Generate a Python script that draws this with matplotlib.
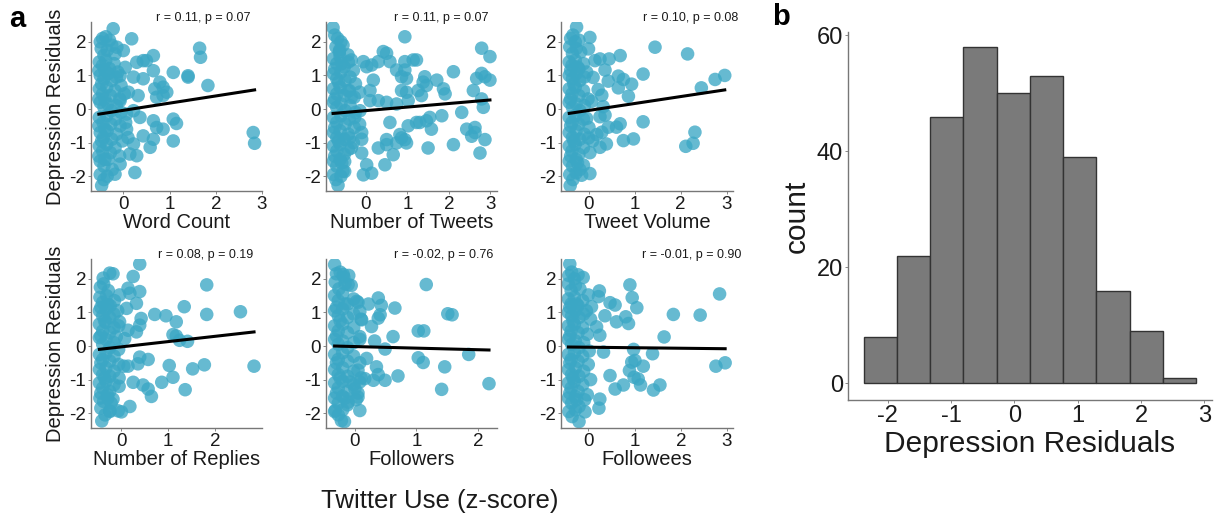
"""Twitter use vs depression residuals: six scatter panels plus a histogram."""
import numpy as np
import matplotlib
matplotlib.use('Agg')
import matplotlib.pyplot as plt

plt.rcParams['font.family'] = ['Liberation Sans', 'DejaVu Sans']
plt.rcParams['axes.unicode_minus'] = False

# -- DATA
panel_names = ['Word Count', 'Number of Tweets', 'Tweet Volume',
               'Number of Replies', 'Followers', 'Followees']
panel_stats = ['r = 0.11, p = 0.07', 'r = 0.11, p = 0.07', 'r = 0.10, p = 0.08',
               'r = 0.08, p = 0.19', 'r = -0.02, p = 0.76', 'r = -0.01, p = 0.90']
fit_slope = [0.214, 0.106, 0.206, 0.157, -0.047, -0.015]
fit_intercept = [-0.039, -0.048, -0.041, -0.025, -0.016, -0.036]
panel_xticks = [[0, 1, 2, 3], [0, 1, 2, 3], [0, 1, 2, 3],
                [0, 1, 2], [0, 1, 2], [0, 1, 2, 3]]

word_count = [
    (-0.50, 2.00), (-0.45, 2.10), (-0.38, 2.15), (-0.30, 2.05), (-0.48, 1.80), (-0.42, 1.60),
    (-0.35, 1.75), (-0.25, 1.90), (-0.52, 1.40), (-0.45, 1.30), (-0.38, 1.45), (-0.30, 1.20),
    (-0.20, 1.35), (-0.12, 1.10), (-0.50, 1.00), (-0.42, 0.90), (-0.33, 1.05), (-0.25, 0.85),
    (-0.15, 0.95), (-0.05, 0.70), (-0.52, 0.60), (-0.45, 0.45), (-0.36, 0.65), (-0.28, 0.40),
    (-0.18, 0.55), (-0.08, 0.30), (0.02, 0.45), (-0.50, 0.20), (-0.42, 0.05), (-0.34, 0.15),
    (-0.26, -0.05), (-0.15, 0.10), (-0.05, -0.10), (-0.52, -0.25), (-0.44, -0.40), (-0.36, -0.20),
    (-0.27, -0.45), (-0.17, -0.30), (-0.07, -0.50), (0.05, -0.40), (-0.50, -0.70), (-0.43, -0.85),
    (-0.35, -0.65), (-0.25, -0.90), (-0.15, -0.75), (-0.02, -0.95), (0.10, -0.85), (-0.52, -1.10),
    (-0.45, -1.25), (-0.36, -1.05), (-0.28, -1.30), (-0.18, -1.15), (-0.08, -1.40), (-0.50, -1.55),
    (-0.42, -1.70), (-0.33, -1.50), (-0.24, -1.80), (-0.50, -1.95), (-0.42, -2.10), (-0.47, -2.28),
    (-0.35, -2.00), (-0.53, 1.15), (-0.53, 0.30), (-0.53, -0.50), (-0.53, -1.40), (-0.47, 0.75),
    (-0.47, -0.95), (-0.40, 1.15), (-0.40, -1.50), (-0.40, 0.30), (-0.40, -0.60),
    (0.18, 2.09), (-0.22, 2.39), (1.65, 1.81), (1.67, 1.54), (1.83, 0.70), (2.81, -0.70),
    (2.84, -1.02), (1.08, 1.09), (1.40, 0.99), (1.40, 0.95), (0.65, 1.59), (0.65, 1.14),
    (0.43, 1.44), (0.50, 1.44), (0.29, 1.39), (0.22, 0.95), (0.43, 0.90), (0.79, 0.80),
    (0.86, 0.65), (0.68, 0.60), (0.94, 0.50), (0.86, 0.40), (0.72, 0.35), (0.32, 0.40),
    (0.11, 0.50), (1.08, -0.30), (1.15, -0.43), (0.65, -0.35), (0.72, -0.55), (0.86, -0.60),
    (0.65, -0.90), (0.43, -0.80), (1.08, -0.95), (0.58, -1.14), (0.22, -1.04), (0.14, -1.34),
    (0.29, -1.39), (0.25, -1.89), (-0.07, -1.64), (-0.18, -1.94), (-0.18, 1.64), (0.00, 1.74),
    (-0.14, 1.84), (0.04, 1.24), (-0.07, 0.99), (0.22, -0.05), (0.36, -0.25), (0.07, -0.15),
    (-0.07, 0.25), (0.07, -0.60),
]

n_tweets = [
    (-0.79, 2.42), (-0.75, 2.20), (-0.68, 2.10), (-0.60, 2.00), (-0.72, 1.85), (-0.64, 1.70),
    (-0.55, 1.90), (-0.78, 1.50), (-0.70, 1.35), (-0.62, 1.55), (-0.52, 1.25), (-0.42, 1.40),
    (-0.30, 1.15), (-0.78, 1.05), (-0.70, 0.90), (-0.60, 1.10), (-0.50, 0.85), (-0.38, 0.95),
    (-0.25, 0.75), (-0.78, 0.60), (-0.70, 0.45), (-0.62, 0.65), (-0.52, 0.40), (-0.40, 0.55),
    (-0.28, 0.35), (-0.15, 0.50), (-0.78, 0.20), (-0.70, 0.05), (-0.60, 0.15), (-0.50, -0.05),
    (-0.38, 0.10), (-0.25, -0.10), (-0.78, -0.25), (-0.70, -0.40), (-0.60, -0.20), (-0.50, -0.45),
    (-0.40, -0.30), (-0.28, -0.55), (-0.15, -0.45), (-0.78, -0.70), (-0.70, -0.85), (-0.62, -0.65),
    (-0.52, -0.90), (-0.42, -0.75), (-0.30, -1.00), (-0.10, -0.90), (-0.78, -1.10), (-0.70, -1.25),
    (-0.62, -1.05), (-0.52, -1.35), (-0.42, -1.20), (-0.78, -1.55), (-0.70, -1.70), (-0.62, -1.50),
    (-0.55, -1.85), (-0.78, -1.95), (-0.72, -2.10), (-0.67, -2.27), (-0.60, -2.00), (-0.75, 1.20),
    (-0.75, 0.30), (-0.75, -0.55), (-0.75, -1.40), (-0.66, 0.80), (-0.66, -0.95), (-0.58, 1.35),
    (-0.58, -1.60),
    (0.94, 2.15), (2.79, 1.81), (2.99, 1.56), (2.79, 1.06), (2.87, 0.96), (2.99, 0.86),
    (2.67, 0.91), (2.59, 0.55), (2.83, 0.05), (2.79, 0.30), (2.43, -0.60), (2.63, -0.55),
    (2.55, -0.81), (2.63, -0.70), (2.87, -0.91), (2.75, -1.31), (2.11, 1.11), (1.71, 0.86),
    (1.87, 0.60), (1.91, 0.45), (2.31, -0.10), (1.83, -0.20), (2.11, -1.06), (1.50, -1.16),
    (1.58, -0.60), (1.46, -0.35), (1.54, -0.25), (1.22, -0.40), (1.30, -0.40), (1.42, 0.96),
    (1.38, 0.80), (1.46, 0.70), (1.26, 0.55), (1.34, 0.40), (1.22, 1.46), (1.14, 1.46),
    (0.94, 1.41), (0.94, 1.16), (0.74, 1.16), (0.98, 0.91), (0.86, 0.96), (0.86, 0.55),
    (0.98, 0.50), (1.02, 0.25), (0.74, 0.15), (0.50, 0.20), (0.42, 1.71), (0.50, 1.66),
    (0.58, 1.41), (0.30, 1.41), (0.58, -0.40), (1.02, -0.50), (0.82, -0.76), (0.86, -0.86),
    (0.94, -0.91), (0.98, -1.01), (0.74, -1.01), (0.50, -0.91), (0.50, -1.06), (0.30, -1.16),
    (0.66, -1.36), (0.46, -1.66), (0.14, -1.91), (-0.06, -1.96), (0.02, -1.66), (-0.10, -1.31),
    (0.10, 0.55), (0.18, 0.86), (0.02, 1.26), (-0.06, 1.41), (0.14, 1.31), (0.10, 0.25),
    (0.30, 0.25), (-0.14, -0.05), (-0.10, -0.70), (-0.27, -0.25), (-0.39, -0.86), (-0.35, -1.16),
    (-0.51, -1.86), (-0.51, -1.56), (-0.63, 1.76), (-0.43, 1.61), (-0.35, 1.46), (-0.43, 0.55),
    (-0.35, 0.35),
]

tweet_volume = [
    (-0.40, 2.10), (-0.35, 2.20), (-0.30, 2.00), (-0.22, 2.05), (-0.42, 1.85), (-0.36, 1.65),
    (-0.28, 1.80), (-0.18, 1.70), (-0.43, 1.40), (-0.37, 1.30), (-0.30, 1.45), (-0.22, 1.20),
    (-0.12, 1.35), (-0.05, 1.10), (-0.43, 1.00), (-0.36, 0.90), (-0.28, 1.05), (-0.20, 0.85),
    (-0.10, 0.95), (-0.43, 0.60), (-0.37, 0.45), (-0.30, 0.65), (-0.22, 0.40), (-0.12, 0.55),
    (-0.02, 0.30), (-0.43, 0.20), (-0.36, 0.05), (-0.28, 0.15), (-0.20, -0.05), (-0.10, 0.10),
    (-0.43, -0.25), (-0.37, -0.40), (-0.30, -0.20), (-0.22, -0.45), (-0.12, -0.30), (0.00, -0.55),
    (-0.43, -0.70), (-0.36, -0.85), (-0.28, -0.65), (-0.20, -0.90), (-0.10, -0.75), (0.08, -0.95),
    (-0.43, -1.10), (-0.37, -1.25), (-0.30, -1.05), (-0.22, -1.35), (-0.12, -1.15), (-0.43, -1.55),
    (-0.36, -1.70), (-0.28, -1.50), (-0.20, -1.80), (-0.42, -1.95), (-0.35, -2.10), (-0.28, -1.90),
    (-0.40, 1.15), (-0.40, 0.30), (-0.40, -0.50), (-0.40, -1.40), (-0.33, 0.75), (-0.33, -0.95),
    (-0.25, 1.25), (-0.25, -1.60),
    (-0.27, 2.44), (0.02, 2.13), (1.44, 1.84), (2.15, 1.64), (2.96, 1.00), (2.75, 0.88),
    (2.45, 0.63), (2.31, -0.69), (2.27, -1.02), (2.11, -1.11), (1.18, 1.04), (1.18, -0.38),
    (0.97, -0.89), (0.75, -0.94), (0.93, 0.74), (0.86, 0.38), (0.68, 1.59), (0.44, 1.49),
    (0.64, 0.98), (0.75, 0.88), (0.64, 0.63), (0.68, -0.44), (0.60, -0.54), (0.42, 0.83),
    (0.35, 1.16), (0.24, 1.49), (0.13, 1.44), (-0.01, 1.79), (0.28, 0.41), (0.20, 0.58),
    (0.31, 0.07), (0.35, -0.18), (0.24, -0.23), (0.42, -0.54), (0.28, -0.69), (0.38, -1.04),
    (0.24, -1.14), (0.02, -1.30), (-0.01, -0.86), (0.17, -0.76), (0.02, -1.92), (-0.16, -1.97),
    (-0.12, -1.67), (-0.41, -2.28), (-0.05, -0.28), (0.06, 0.23), (0.09, 0.94),
]

n_replies = [
    (-0.45, 1.75), (-0.38, 1.85), (-0.28, 1.65), (-0.46, 1.45), (-0.40, 1.30), (-0.32, 1.50),
    (-0.24, 1.20), (-0.15, 1.35), (-0.47, 1.05), (-0.40, 0.90), (-0.33, 1.10), (-0.25, 0.85),
    (-0.16, 0.95), (-0.08, 1.05), (-0.47, 0.65), (-0.40, 0.45), (-0.33, 0.70), (-0.25, 0.40),
    (-0.16, 0.55), (-0.06, 0.60), (-0.47, 0.25), (-0.40, 0.05), (-0.33, 0.20), (-0.25, -0.05),
    (-0.16, 0.10), (-0.06, -0.10), (-0.47, -0.25), (-0.40, -0.40), (-0.33, -0.20), (-0.25, -0.45),
    (-0.16, -0.30), (-0.06, -0.55), (-0.47, -0.70), (-0.40, -0.85), (-0.33, -0.65), (-0.25, -0.90),
    (-0.16, -0.75), (-0.05, -0.95), (0.05, -0.60), (-0.47, -1.10), (-0.40, -1.25), (-0.33, -1.05),
    (-0.25, -1.35), (-0.16, -1.15), (-0.05, -1.20), (-0.46, -1.55), (-0.38, -1.65), (-0.30, -1.45),
    (-0.22, -1.70), (-0.44, -1.85), (-0.35, -2.05), (-0.25, -1.95), (-0.44, 1.15), (-0.44, 0.30),
    (-0.44, -0.50), (-0.44, -1.40), (-0.36, 0.75), (-0.36, -0.95), (-0.29, 1.25), (-0.29, -1.55),
    (0.39, 2.44), (0.25, 2.07), (-0.25, 2.17), (-0.18, 2.15), (-0.39, 2.02), (0.14, 1.72),
    (0.18, 1.57), (0.39, 1.62), (0.32, 1.27), (1.82, 1.82), (1.34, 1.17), (1.82, 0.94),
    (2.54, 1.02), (0.71, 0.94), (0.95, 0.90), (1.17, 0.72), (0.42, 0.82), (0.39, 0.62),
    (0.32, 0.42), (0.14, 0.47), (1.10, 0.34), (1.17, 0.30), (1.24, 0.17), (1.41, 0.14),
    (2.83, -0.60), (1.77, -0.56), (1.52, -0.68), (1.02, -0.58), (1.10, -0.93), (0.86, -1.08),
    (1.36, -1.30), (0.57, -0.40), (0.39, -0.33), (0.35, -0.53), (0.14, -0.60), (0.25, -1.08),
    (0.46, -1.16), (0.57, -1.28), (0.64, -1.50), (0.18, -1.80), (0.00, -1.96), (-0.07, -1.93),
    (-0.25, -1.93), (-0.18, -1.58), (-0.42, -2.23), (0.07, 0.22), (-0.11, 0.27), (-0.04, 0.72),
    (0.11, 1.12), (-0.04, 1.52),
]

followers = [
    (-0.33, 2.42), (-0.30, 2.15), (-0.24, 2.20), (-0.18, 2.05), (-0.10, 2.10), (-0.32, 1.90),
    (-0.26, 1.70), (-0.16, 1.85), (-0.06, 1.80), (-0.33, 1.50), (-0.27, 1.35), (-0.20, 1.55),
    (-0.12, 1.25), (-0.02, 1.40), (0.05, 1.30), (-0.33, 1.05), (-0.27, 0.90), (-0.20, 1.10),
    (-0.12, 0.85), (-0.02, 0.95), (0.10, 0.80), (-0.33, 0.60), (-0.27, 0.45), (-0.20, 0.65),
    (-0.12, 0.40), (-0.02, 0.55), (-0.33, 0.20), (-0.27, 0.05), (-0.20, 0.15), (-0.12, -0.05),
    (-0.02, 0.10), (0.08, 0.20), (-0.33, -0.25), (-0.27, -0.40), (-0.20, -0.20), (-0.12, -0.45),
    (-0.02, -0.30), (0.08, -0.50), (-0.33, -0.70), (-0.27, -0.85), (-0.20, -0.65), (-0.12, -0.90),
    (-0.02, -0.75), (0.10, -0.95), (-0.33, -1.10), (-0.27, -1.25), (-0.20, -1.05), (-0.12, -1.35),
    (-0.02, -1.15), (0.05, -1.40), (-0.33, -1.55), (-0.27, -1.70), (-0.20, -1.50), (-0.12, -1.75),
    (0.02, -1.60), (-0.33, -1.95), (-0.27, -2.05), (-0.20, -1.90), (-0.17, -2.25), (-0.30, 1.15),
    (-0.30, 0.30), (-0.30, -0.50), (-0.30, -1.40), (-0.24, 0.75), (-0.24, -0.95), (-0.16, 1.25),
    (-0.16, -1.55),
    (1.16, 1.83), (0.38, 1.43), (0.43, 1.21), (0.22, 1.25), (0.65, 1.13), (0.41, 0.93),
    (0.38, 0.83), (0.27, 0.58), (0.11, 0.78), (0.08, 1.03), (0.03, 1.33), (-0.11, 1.83),
    (-0.19, 2.13), (1.51, 0.96), (1.58, 0.93), (1.03, 0.45), (1.12, 0.45), (0.62, 0.28),
    (0.32, 0.15), (0.08, 0.28), (0.49, -0.09), (1.85, -0.25), (1.03, -0.35), (1.11, -0.49),
    (1.46, -0.62), (0.70, -0.89), (0.49, -1.02), (0.35, -0.62), (0.38, -0.85), (0.30, -1.02),
    (0.19, -0.37), (2.18, -1.12), (1.41, -1.29), (0.08, -1.07), (0.16, -0.97), (0.05, -0.72),
    (0.08, -1.92), (0.05, -1.52), (-0.11, -1.67), (-0.22, -2.22), (-0.32, -1.92), (0.00, -1.27),
    (-0.08, -1.07),
]

followees = [
    (-0.42, 2.10), (-0.36, 2.20), (-0.30, 2.00), (-0.22, 2.12), (-0.43, 1.85), (-0.37, 1.65),
    (-0.28, 1.80), (-0.18, 1.70), (-0.43, 1.40), (-0.37, 1.25), (-0.30, 1.45), (-0.22, 1.20),
    (-0.12, 1.35), (-0.04, 1.05), (-0.43, 1.00), (-0.36, 0.90), (-0.28, 1.05), (-0.20, 0.85),
    (-0.10, 0.95), (0.05, 0.80), (-0.43, 0.60), (-0.37, 0.45), (-0.30, 0.65), (-0.22, 0.40),
    (-0.12, 0.55), (-0.02, 0.35), (-0.43, 0.20), (-0.36, 0.05), (-0.28, 0.15), (-0.20, -0.05),
    (-0.10, 0.10), (0.02, -0.15), (-0.43, -0.25), (-0.37, -0.40), (-0.30, -0.20), (-0.22, -0.45),
    (-0.12, -0.30), (0.00, -0.55), (-0.43, -0.70), (-0.36, -0.85), (-0.28, -0.65), (-0.20, -0.90),
    (-0.10, -0.75), (0.05, -1.00), (-0.43, -1.10), (-0.37, -1.25), (-0.30, -1.05), (-0.22, -1.35),
    (-0.12, -1.15), (-0.02, -1.45), (-0.43, -1.55), (-0.36, -1.70), (-0.28, -1.50), (-0.20, -1.80),
    (-0.08, -1.60), (-0.42, -1.95), (-0.35, -2.10), (-0.28, -1.90), (-0.40, 1.15), (-0.40, 0.30),
    (-0.40, -0.50), (-0.40, -1.40), (-0.33, 0.75), (-0.33, -0.95), (-0.25, 1.25), (-0.25, -1.60),
    (-0.40, 2.44), (-0.11, 2.04), (0.24, 1.64), (0.22, 1.47), (0.90, 1.82), (0.95, 1.44),
    (1.05, 1.14), (2.84, 1.55), (2.42, 0.92), (1.84, 0.94), (0.47, 1.29), (0.58, 1.22),
    (0.36, 0.90), (0.61, 0.72), (0.81, 0.87), (0.87, 0.67), (1.64, 0.27), (0.98, -0.10),
    (1.39, -0.23), (1.01, -0.43), (0.94, -0.48), (1.19, -0.60), (0.89, -0.73), (0.99, -0.93),
    (1.08, -0.98), (1.13, -1.16), (1.41, -1.31), (1.55, -1.16), (0.76, -1.16), (0.58, -1.28),
    (0.47, -0.88), (0.33, -0.18), (2.76, -0.60), (2.96, -0.50), (0.25, -1.58), (0.23, -1.85),
    (-0.07, -1.96), (-0.20, -2.25), (0.18, 0.57), (0.25, 0.32), (0.07, 1.17), (0.00, 1.52),
]

panel_points = [word_count, n_tweets, tweet_volume, n_replies, followers, followees]

# histogram of depression residuals
hist_edges = [-2.37, -1.85, -1.33, -0.81, -0.28, 0.24, 0.76, 1.29, 1.82, 2.34, 2.86]
hist_counts = [8, 22, 46, 58, 50, 53, 39, 16, 9, 1]


def style_axes(ax, fs):
    for side in ['top', 'right']:
        ax.spines[side].set_visible(False)
    for side in ['left', 'bottom']:
        ax.spines[side].set_color('#777777')
        ax.spines[side].set_linewidth(1.0)
    ax.tick_params(length=2, width=0.7, color='#888888', pad=1.5,
                   labelsize=fs, labelcolor='#1a1a1a')


def main():
    W, H = 1225, 521
    fig = plt.figure(figsize=(W / 100, H / 100), dpi=100)

    # axes boxes in pixels: left, top, right, bottom
    boxes = [(91, 22, 262, 191), (326, 22, 497, 191), (561, 22, 733, 191),
             (91, 259, 262, 428), (326, 259, 497, 428), (561, 259, 733, 428)]
    xlims = [(-0.70, 3.00), (-0.96, 3.16), (-0.61, 3.14),
             (-0.65, 3.00), (-0.47, 2.31), (-0.59, 3.13)]
    stat_x = [0.93, 0.95, 1.03, 0.95, 0.98, 1.05]

    for i in range(6):
        l, t, r, b = boxes[i]
        ax = fig.add_axes([l / W, 1 - b / H, (r - l) / W, (b - t) / H])
        pts = np.array(panel_points[i])
        x, y = pts[:, 0], pts[:, 1]
        ax.scatter(x, y, s=95, color='#3ba7c5', alpha=0.78, edgecolors='none', zorder=2)
        xx = np.array([x.min(), x.max()])
        ax.plot(xx, fit_intercept[i] + fit_slope[i] * xx, color='black', lw=2.2, zorder=3)
        ax.set_xlim(*xlims[i])
        ax.set_ylim(-2.44, 2.59)
        ax.set_xticks(panel_xticks[i])
        ax.set_yticks([-2, -1, 0, 1, 2])
        style_axes(ax, 13.5)
        ax.set_xlabel(panel_names[i], fontsize=14.5, labelpad=0, color='#1a1a1a')
        if i % 3 == 0:
            ax.set_ylabel('Depression Residuals', fontsize=14.5, labelpad=3, color='#1a1a1a')
        ax.text(stat_x[i], 1.025, panel_stats[i], transform=ax.transAxes,
                ha='right', va='center', fontsize=9, color='#1a1a1a')

    # -- HISTOGRAM
    l, t, r, b = 848, 32, 1212, 400
    axh = fig.add_axes([l / W, 1 - b / H, (r - l) / W, (b - t) / H])
    edges = np.array(hist_edges)
    axh.bar(edges[:-1], hist_counts, width=np.diff(edges), align='edge',
            color='#7a7a7a', edgecolor='#333333', linewidth=1.0)
    axh.set_xlim(-2.63, 3.12)
    axh.set_ylim(-2.87, 60.6)
    axh.set_xticks([-2, -1, 0, 1, 2, 3])
    axh.set_yticks([0, 20, 40, 60])
    style_axes(axh, 17)
    axh.set_xlabel('Depression Residuals', fontsize=21.5, labelpad=2, color='#1a1a1a')
    axh.set_ylabel('count', fontsize=21.5, labelpad=4, color='#1a1a1a')

    fig.text(440 / W, 1 - 501 / H, 'Twitter Use (z-score)', ha='center', va='center',
             fontsize=18.5, color='#1a1a1a')
    fig.text(17 / W, 1 - 19 / H, 'a', ha='center', va='center', fontsize=21,
             fontweight='bold')
    fig.text(781 / W, 1 - 17 / H, 'b', ha='center', va='center', fontsize=21,
             fontweight='bold')

    fig.savefig('out.png', dpi=100, facecolor='white')


main()
